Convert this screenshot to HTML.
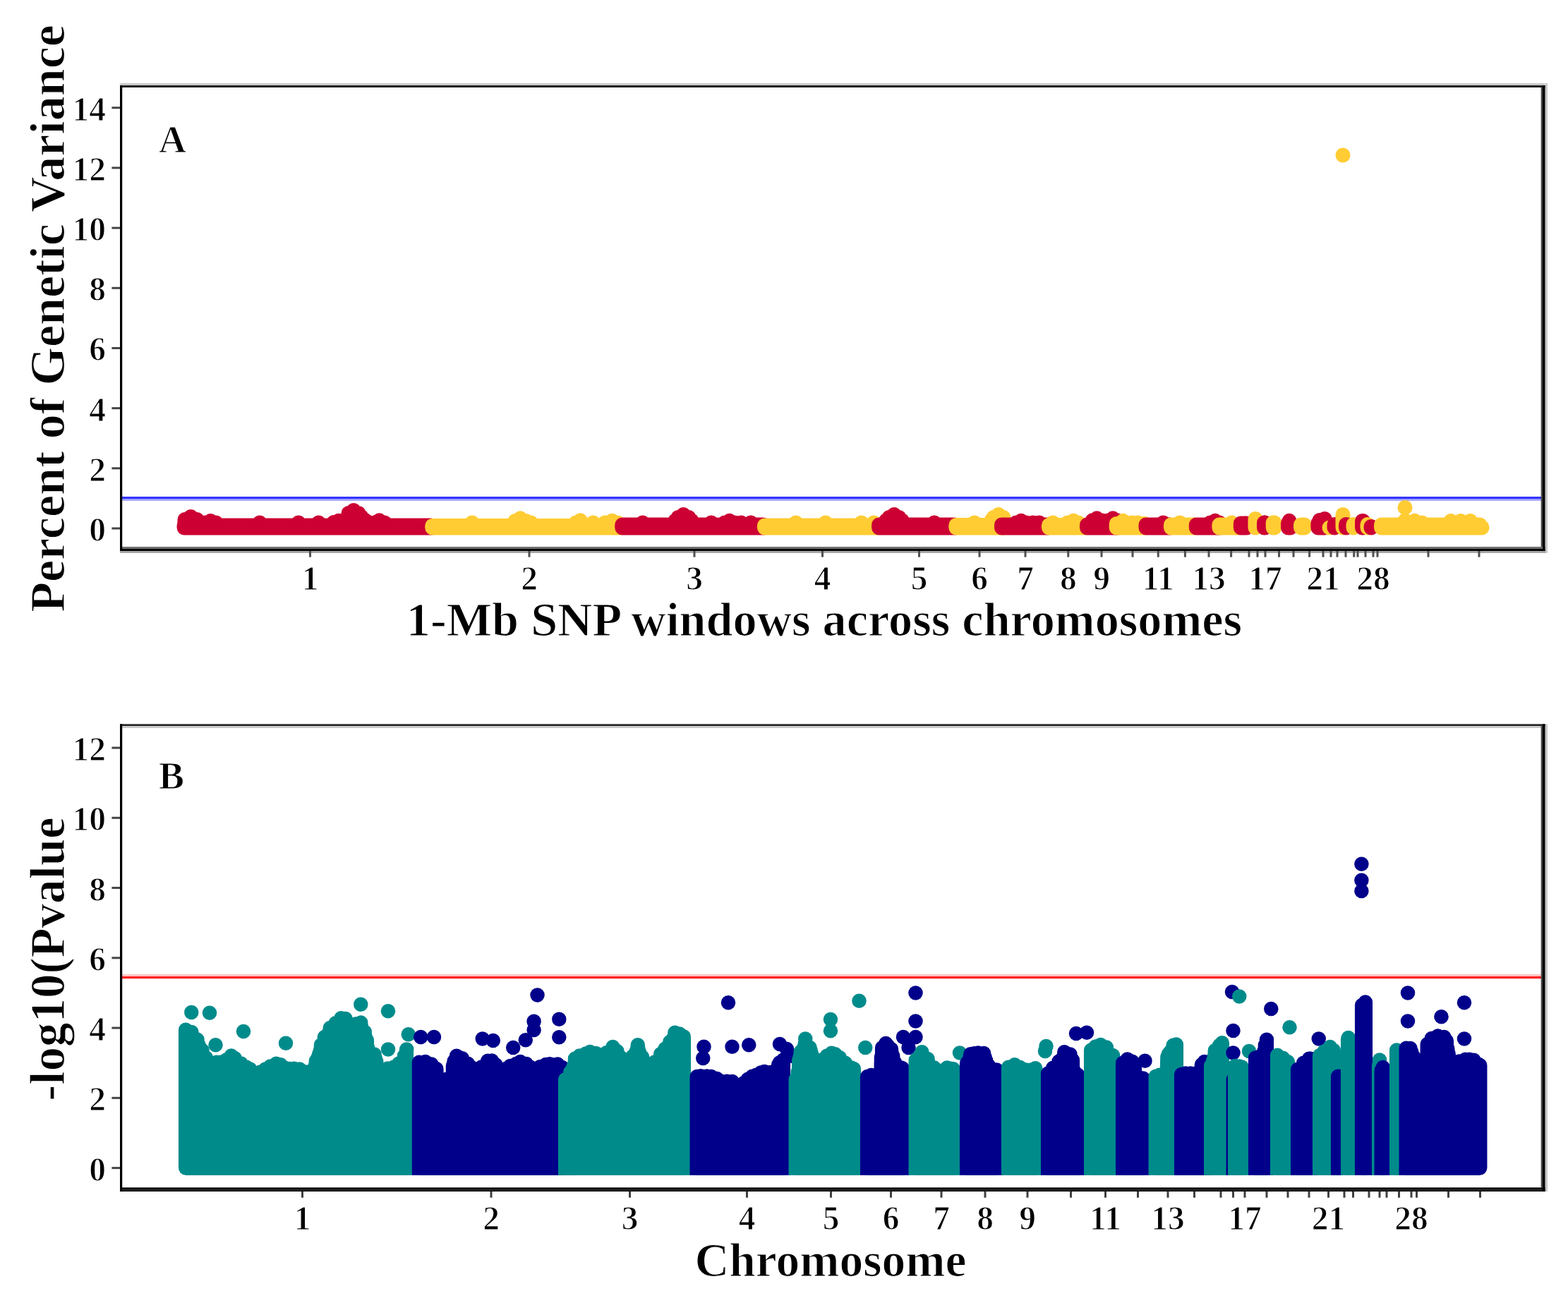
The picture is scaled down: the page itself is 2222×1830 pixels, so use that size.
<!DOCTYPE html>
<html><head><meta charset="utf-8"><title>Manhattan plots</title>
<style>html,body{margin:0;padding:0;background:#fff;overflow:hidden}svg{display:block}text{font-family:'Liberation Serif', 'Times New Roman', serif;font-weight:bold;fill:#000;stroke:#fff;stroke-width:1.2px}</style>
</head><body>
<svg width="2222" height="1830" viewBox="0 0 2222 1830"><rect width="2222" height="1830" fill="#fff"/><rect x="173" y="707" width="2012" height="3" fill="#AAAAFF"/><rect x="173" y="704" width="2012" height="3.2" fill="#3333FF"/><path d="M261.1 745.0V748.0M264.1 745.0V748.0M267.1 745.0V748.0M270.1 745.0V748.0M273.1 745.0V748.0M276.1 745.0V748.0M279.1 745.0V748.0M282.1 745.0V748.0M285.1 745.0V748.0M288.1 745.0V748.0M291.1 745.0V748.0M294.1 745.0V748.0M297.1 745.0V748.0M300.1 745.0V748.0M303.1 745.0V748.0M306.1 745.0V748.0M309.1 745.0V748.0M312.1 745.0V748.0M315.1 745.0V748.0M318.1 745.0V748.0M321.1 745.0V748.0M324.1 745.0V748.0M327.1 745.0V748.0M330.1 745.0V748.0M333.1 745.0V748.0M336.1 745.0V748.0M339.1 745.0V748.0M342.1 745.0V748.0M345.1 745.0V748.0M348.1 745.0V748.0M351.1 745.0V748.0M354.1 745.0V748.0M357.1 745.0V748.0M360.1 745.0V748.0M363.1 745.0V748.0M366.1 745.0V748.0M369.1 745.0V748.0M372.1 745.0V748.0M375.1 745.0V748.0M378.1 745.0V748.0M381.1 745.0V748.0M384.1 745.0V748.0M387.1 745.0V748.0M390.1 745.0V748.0M393.1 745.0V748.0M396.1 745.0V748.0M399.1 745.0V748.0M402.1 745.0V748.0M405.1 745.0V748.0M408.1 745.0V748.0M411.1 745.0V748.0M414.1 745.0V748.0M417.1 745.0V748.0M420.1 745.0V748.0M423.1 745.0V748.0M426.1 745.0V748.0M429.1 745.0V748.0M432.1 745.0V748.0M435.1 745.0V748.0M438.1 745.0V748.0M441.1 745.0V748.0M444.1 745.0V748.0M447.1 745.0V748.0M450.1 745.0V748.0M453.1 745.0V748.0M456.1 745.0V748.0M459.1 745.0V748.0M462.1 745.0V748.0M465.1 745.0V748.0M468.1 745.0V748.0M471.1 745.0V748.0M474.1 745.0V748.0M477.1 745.0V748.0M480.1 745.0V748.0M483.1 745.0V748.0M486.1 745.0V748.0M489.1 745.0V748.0M492.1 745.0V748.0M495.1 745.0V748.0M498.1 745.0V748.0M501.1 745.0V748.0M504.1 745.0V748.0M507.1 745.0V748.0M510.1 745.0V748.0M513.1 745.0V748.0M516.1 745.0V748.0M519.1 745.0V748.0M522.1 745.0V748.0M525.1 745.0V748.0M528.1 745.0V748.0M531.1 745.0V748.0M534.1 745.0V748.0M537.1 745.0V748.0M540.1 745.0V748.0M543.1 745.0V748.0M546.1 745.0V748.0M549.1 745.0V748.0M552.1 745.0V748.0M555.1 745.0V748.0M558.1 745.0V748.0M561.1 745.0V748.0M564.1 745.0V748.0M567.1 745.0V748.0M570.1 745.0V748.0M573.1 745.0V748.0M576.1 745.0V748.0M579.1 745.0V748.0M582.1 745.0V748.0M585.1 745.0V748.0M588.1 745.0V748.0M591.1 745.0V748.0M594.1 745.0V748.0M597.1 745.0V748.0M600.1 745.0V748.0M603.1 745.0V748.0M606.1 745.0V748.0M609.1 745.0V748.0M610.7 745.0V748.0M270.4 732.5V748.0M262.0 736.5V748.0M279.0 736.5V748.0M298.4 738.5V748.0M290.0 740.9V748.0M306.0 740.9V748.0M368.0 740.9V748.0M423.0 740.9V748.0M451.5 740.9V748.0M479.9 738.3V748.0M473.0 740.5V748.0M489.0 740.5V748.0M501.1 723.4V748.0M494.0 727.5V748.0M508.0 727.5V748.0M512.0 732.5V748.0M518.0 737.8V748.0M537.5 737.8V748.0M530.0 740.9V748.0M545.0 740.9V748.0" stroke="#CC0033" stroke-width="21.0" stroke-linecap="round" fill="none"/><path d="M612.7 745.5V748.0M615.7 745.5V748.0M618.7 745.5V748.0M621.7 745.5V748.0M624.7 745.5V748.0M627.7 745.5V748.0M630.7 745.5V748.0M633.7 745.5V748.0M636.7 745.5V748.0M639.7 745.5V748.0M642.7 745.5V748.0M645.7 745.5V748.0M648.7 745.5V748.0M651.7 745.5V748.0M654.7 745.5V748.0M657.7 745.5V748.0M660.7 745.5V748.0M663.7 745.5V748.0M666.7 745.5V748.0M669.7 745.5V748.0M672.7 745.5V748.0M675.7 745.5V748.0M678.7 745.5V748.0M681.7 745.5V748.0M684.7 745.5V748.0M687.7 745.5V748.0M690.7 745.5V748.0M693.7 745.5V748.0M696.7 745.5V748.0M699.7 745.5V748.0M702.7 745.5V748.0M705.7 745.5V748.0M708.7 745.5V748.0M711.7 745.5V748.0M714.7 745.5V748.0M717.7 745.5V748.0M720.7 745.5V748.0M723.7 745.5V748.0M726.7 745.5V748.0M729.7 745.5V748.0M732.7 745.5V748.0M735.7 745.5V748.0M738.7 745.5V748.0M741.7 745.5V748.0M744.7 745.5V748.0M747.7 745.5V748.0M750.7 745.5V748.0M753.7 745.5V748.0M756.7 745.5V748.0M759.7 745.5V748.0M762.7 745.5V748.0M765.7 745.5V748.0M768.7 745.5V748.0M771.7 745.5V748.0M774.7 745.5V748.0M777.7 745.5V748.0M780.7 745.5V748.0M783.7 745.5V748.0M786.7 745.5V748.0M789.7 745.5V748.0M792.7 745.5V748.0M795.7 745.5V748.0M798.7 745.5V748.0M801.7 745.5V748.0M804.7 745.5V748.0M807.7 745.5V748.0M810.7 745.5V748.0M813.7 745.5V748.0M816.7 745.5V748.0M819.7 745.5V748.0M822.7 745.5V748.0M825.7 745.5V748.0M828.7 745.5V748.0M831.7 745.5V748.0M834.7 745.5V748.0M837.7 745.5V748.0M840.7 745.5V748.0M843.7 745.5V748.0M846.7 745.5V748.0M849.7 745.5V748.0M852.7 745.5V748.0M855.7 745.5V748.0M858.7 745.5V748.0M861.7 745.5V748.0M864.7 745.5V748.0M867.7 745.5V748.0M870.7 745.5V748.0M873.7 745.5V748.0M876.7 745.5V748.0M879.7 745.5V748.0M879.8 745.5V748.0M669.0 740.9V748.0M737.3 734.8V748.0M730.0 738.5V748.0M745.0 738.5V748.0M752.5 740.9V748.0M822.4 737.8V748.0M816.0 740.9V748.0M840.5 740.9V748.0M857.3 740.9V748.0M867.5 738.3V748.0M860.0 740.9V748.0M875.0 740.9V748.0" stroke="#FFCC33" stroke-width="21.0" stroke-linecap="round" fill="none"/><path d="M881.8 744.0V748.0M884.8 744.0V748.0M887.8 744.0V748.0M890.8 744.0V748.0M893.8 744.0V748.0M896.8 744.0V748.0M899.8 744.0V748.0M902.8 744.0V748.0M905.8 744.0V748.0M908.8 744.0V748.0M911.8 744.0V748.0M914.8 744.0V748.0M917.8 744.0V748.0M920.8 744.0V748.0M923.8 744.0V748.0M926.8 744.0V748.0M929.8 744.0V748.0M932.8 744.0V748.0M935.8 744.0V748.0M938.8 744.0V748.0M941.8 744.0V748.0M944.8 744.0V748.0M947.8 744.0V748.0M950.8 744.0V748.0M953.8 744.0V748.0M956.8 744.0V748.0M959.8 744.0V748.0M962.8 744.0V748.0M965.8 744.0V748.0M968.8 744.0V748.0M971.8 744.0V748.0M974.8 744.0V748.0M977.8 744.0V748.0M980.8 744.0V748.0M983.8 744.0V748.0M986.8 744.0V748.0M989.8 744.0V748.0M992.8 744.0V748.0M995.8 744.0V748.0M998.8 744.0V748.0M1001.8 744.0V748.0M1004.8 744.0V748.0M1007.8 744.0V748.0M1010.8 744.0V748.0M1013.8 744.0V748.0M1016.8 744.0V748.0M1019.8 744.0V748.0M1022.8 744.0V748.0M1025.8 744.0V748.0M1028.8 744.0V748.0M1031.8 744.0V748.0M1034.8 744.0V748.0M1037.8 744.0V748.0M1040.8 744.0V748.0M1043.8 744.0V748.0M1046.8 744.0V748.0M1049.8 744.0V748.0M1052.8 744.0V748.0M1055.8 744.0V748.0M1058.8 744.0V748.0M1061.8 744.0V748.0M1064.8 744.0V748.0M1067.8 744.0V748.0M1070.8 744.0V748.0M1073.8 744.0V748.0M1076.8 744.0V748.0M1079.8 744.0V748.0M1081.5 744.0V748.0M910.7 740.9V748.0M968.4 729.5V748.0M961.0 733.5V748.0M976.0 733.5V748.0M957.0 737.8V748.0M980.0 737.8V748.0M1007.9 740.9V748.0M1033.7 738.3V748.0M1027.0 740.9V748.0M1041.0 740.9V748.0M1050.4 740.9V748.0M1064.0 740.9V748.0" stroke="#CC0033" stroke-width="21.0" stroke-linecap="round" fill="none"/><path d="M1083.5 745.0V748.0M1086.5 745.0V748.0M1089.5 745.0V748.0M1092.5 745.0V748.0M1095.5 745.0V748.0M1098.5 745.0V748.0M1101.5 745.0V748.0M1104.5 745.0V748.0M1107.5 745.0V748.0M1110.5 745.0V748.0M1113.5 745.0V748.0M1116.5 745.0V748.0M1119.5 745.0V748.0M1122.5 745.0V748.0M1125.5 745.0V748.0M1128.5 745.0V748.0M1131.5 745.0V748.0M1134.5 745.0V748.0M1137.5 745.0V748.0M1140.5 745.0V748.0M1143.5 745.0V748.0M1146.5 745.0V748.0M1149.5 745.0V748.0M1152.5 745.0V748.0M1155.5 745.0V748.0M1158.5 745.0V748.0M1161.5 745.0V748.0M1164.5 745.0V748.0M1167.5 745.0V748.0M1170.5 745.0V748.0M1173.5 745.0V748.0M1176.5 745.0V748.0M1179.5 745.0V748.0M1182.5 745.0V748.0M1185.5 745.0V748.0M1188.5 745.0V748.0M1191.5 745.0V748.0M1194.5 745.0V748.0M1197.5 745.0V748.0M1200.5 745.0V748.0M1203.5 745.0V748.0M1206.5 745.0V748.0M1209.5 745.0V748.0M1212.5 745.0V748.0M1215.5 745.0V748.0M1218.5 745.0V748.0M1221.5 745.0V748.0M1224.5 745.0V748.0M1227.5 745.0V748.0M1230.5 745.0V748.0M1233.5 745.0V748.0M1236.5 745.0V748.0M1239.5 745.0V748.0M1242.5 745.0V748.0M1243.6 745.0V748.0M1127.8 740.9V748.0M1169.9 740.9V748.0M1220.7 740.9V748.0M1238.2 740.9V748.0" stroke="#FFCC33" stroke-width="21.0" stroke-linecap="round" fill="none"/><path d="M1245.6 744.0V748.0M1248.6 744.0V748.0M1251.6 744.0V748.0M1254.6 744.0V748.0M1257.6 744.0V748.0M1260.6 744.0V748.0M1263.6 744.0V748.0M1266.6 744.0V748.0M1269.6 744.0V748.0M1272.6 744.0V748.0M1275.6 744.0V748.0M1278.6 744.0V748.0M1281.6 744.0V748.0M1284.6 744.0V748.0M1287.6 744.0V748.0M1290.6 744.0V748.0M1293.6 744.0V748.0M1296.6 744.0V748.0M1299.6 744.0V748.0M1302.6 744.0V748.0M1305.6 744.0V748.0M1308.6 744.0V748.0M1311.6 744.0V748.0M1314.6 744.0V748.0M1317.6 744.0V748.0M1320.6 744.0V748.0M1323.6 744.0V748.0M1326.6 744.0V748.0M1329.6 744.0V748.0M1332.6 744.0V748.0M1335.6 744.0V748.0M1338.6 744.0V748.0M1341.6 744.0V748.0M1344.6 744.0V748.0M1347.6 744.0V748.0M1350.6 744.0V748.0M1352.9 744.0V748.0M1267.0 729.5V748.0M1260.0 733.5V748.0M1274.0 733.5V748.0M1255.6 737.8V748.0M1278.4 737.8V748.0M1324.0 740.9V748.0" stroke="#CC0033" stroke-width="21.0" stroke-linecap="round" fill="none"/><path d="M1354.9 744.5V748.0M1357.9 744.5V748.0M1360.9 744.5V748.0M1363.9 744.5V748.0M1366.9 744.5V748.0M1369.9 744.5V748.0M1372.9 744.5V748.0M1375.9 744.5V748.0M1378.9 744.5V748.0M1381.9 744.5V748.0M1384.9 744.5V748.0M1387.9 744.5V748.0M1390.9 744.5V748.0M1393.9 744.5V748.0M1396.9 744.5V748.0M1399.9 744.5V748.0M1402.9 744.5V748.0M1405.9 744.5V748.0M1408.9 744.5V748.0M1411.9 744.5V748.0M1414.9 744.5V748.0M1417.5 744.5V748.0M1380.9 740.9V748.0M1415.0 729.5V748.0M1408.0 733.5V748.0M1422.0 733.5V748.0M1405.0 737.5V748.0" stroke="#FFCC33" stroke-width="21.0" stroke-linecap="round" fill="none"/><path d="M1419.5 744.0V748.0M1422.5 744.0V748.0M1425.5 744.0V748.0M1428.5 744.0V748.0M1431.5 744.0V748.0M1434.5 744.0V748.0M1437.5 744.0V748.0M1440.5 744.0V748.0M1443.5 744.0V748.0M1446.5 744.0V748.0M1449.5 744.0V748.0M1452.5 744.0V748.0M1455.5 744.0V748.0M1458.5 744.0V748.0M1461.5 744.0V748.0M1464.5 744.0V748.0M1467.5 744.0V748.0M1470.5 744.0V748.0M1473.5 744.0V748.0M1476.5 744.0V748.0M1479.5 744.0V748.0M1482.5 744.0V748.0M1484.5 744.0V748.0M1447.0 738.3V748.0M1440.0 740.9V748.0M1454.0 740.9V748.0M1463.6 740.9V748.0M1472.7 740.9V748.0" stroke="#CC0033" stroke-width="21.0" stroke-linecap="round" fill="none"/><path d="M1486.5 744.5V748.0M1489.5 744.5V748.0M1492.5 744.5V748.0M1495.5 744.5V748.0M1498.5 744.5V748.0M1501.5 744.5V748.0M1504.5 744.5V748.0M1507.5 744.5V748.0M1510.5 744.5V748.0M1513.5 744.5V748.0M1516.5 744.5V748.0M1519.5 744.5V748.0M1522.5 744.5V748.0M1525.5 744.5V748.0M1528.5 744.5V748.0M1531.5 744.5V748.0M1534.5 744.5V748.0M1537.5 744.5V748.0M1538.5 744.5V748.0M1492.0 740.9V748.0M1520.9 738.3V748.0M1513.0 740.9V748.0M1528.0 740.9V748.0" stroke="#FFCC33" stroke-width="21.0" stroke-linecap="round" fill="none"/><path d="M1540.5 744.0V748.0M1543.5 744.0V748.0M1546.5 744.0V748.0M1549.5 744.0V748.0M1552.5 744.0V748.0M1555.5 744.0V748.0M1558.5 744.0V748.0M1561.5 744.0V748.0M1564.5 744.0V748.0M1567.5 744.0V748.0M1570.5 744.0V748.0M1573.5 744.0V748.0M1576.5 744.0V748.0M1579.5 744.0V748.0M1580.2 744.0V748.0M1554.3 734.8V748.0M1548.0 737.8V748.0M1561.0 737.8V748.0M1577.0 734.8V748.0M1571.0 737.8V748.0M1583.0 737.8V748.0" stroke="#CC0033" stroke-width="21.0" stroke-linecap="round" fill="none"/><path d="M1582.2 742.5V748.0M1585.2 742.5V748.0M1588.2 742.5V748.0M1591.2 742.5V748.0M1594.2 742.5V748.0M1597.2 742.5V748.0M1600.2 742.5V748.0M1603.2 742.5V748.0M1606.2 742.5V748.0M1609.2 742.5V748.0M1612.2 742.5V748.0M1615.2 742.5V748.0M1618.2 742.5V748.0M1621.2 742.5V748.0M1622.0 742.5V748.0M1591.4 738.3V748.0M1604.0 740.9V748.0M1612.0 740.9V748.0" stroke="#FFCC33" stroke-width="21.0" stroke-linecap="round" fill="none"/><path d="M1624.0 744.0V748.0M1627.0 744.0V748.0M1630.0 744.0V748.0M1633.0 744.0V748.0M1636.0 744.0V748.0M1639.0 744.0V748.0M1642.0 744.0V748.0M1645.0 744.0V748.0M1648.0 744.0V748.0M1651.0 744.0V748.0M1654.0 744.0V748.0M1657.0 744.0V748.0M1657.5 744.0V748.0M1648.4 740.9V748.0" stroke="#CC0033" stroke-width="21.0" stroke-linecap="round" fill="none"/><path d="M1659.5 744.0V748.0M1662.5 744.0V748.0M1665.5 744.0V748.0M1668.5 744.0V748.0M1671.5 744.0V748.0M1674.5 744.0V748.0M1677.5 744.0V748.0M1680.5 744.0V748.0M1683.5 744.0V748.0M1686.5 744.0V748.0M1689.5 744.0V748.0M1692.5 744.0V748.0M1693.3 744.0V748.0M1671.9 740.9V748.0" stroke="#FFCC33" stroke-width="21.0" stroke-linecap="round" fill="none"/><path d="M1695.3 744.0V748.0M1698.3 744.0V748.0M1701.3 744.0V748.0M1704.3 744.0V748.0M1707.3 744.0V748.0M1710.3 744.0V748.0M1713.3 744.0V748.0M1716.3 744.0V748.0M1719.3 744.0V748.0M1722.3 744.0V748.0M1725.3 744.0V748.0M1725.9 744.0V748.0M1722.0 738.3V748.0M1715.0 740.9V748.0M1728.0 740.9V748.0" stroke="#CC0033" stroke-width="21.0" stroke-linecap="round" fill="none"/><path d="M1727.9 744.0V748.0M1730.9 744.0V748.0M1733.9 744.0V748.0M1736.9 744.0V748.0M1739.9 744.0V748.0M1742.9 744.0V748.0M1745.9 744.0V748.0M1748.9 744.0V748.0M1751.9 744.0V748.0M1754.9 744.0V748.0M1756.3 744.0V748.0M1745.5 740.9V748.0" stroke="#FFCC33" stroke-width="21.0" stroke-linecap="round" fill="none"/><path d="M1758.3 742.0V748.0M1761.3 742.0V748.0M1764.3 742.0V748.0M1766.5 742.0V748.0" stroke="#CC0033" stroke-width="21.0" stroke-linecap="round" fill="none"/><path d="M1779.0 735.5V748.0" stroke="#FFCC33" stroke-width="21.0" stroke-linecap="round" fill="none"/><path d="M1791.5 740.9V748.0M1792.5 740.9V748.0" stroke="#CC0033" stroke-width="21.0" stroke-linecap="round" fill="none"/><path d="M1804.2 740.9V748.0M1805.9 740.9V748.0" stroke="#FFCC33" stroke-width="21.0" stroke-linecap="round" fill="none"/><path d="M1825.5 741.5V748.0M1828.5 741.5V748.0M1827.0 738.3V748.0" stroke="#CC0033" stroke-width="21.0" stroke-linecap="round" fill="none"/><path d="M1843.5 744.0V748.0M1846.5 744.0V748.0M1848.5 744.0V748.0" stroke="#FFCC33" stroke-width="21.0" stroke-linecap="round" fill="none"/><path d="M1867.9 741.5V748.0M1870.9 741.5V748.0M1873.9 741.5V748.0M1875.5 741.5V748.0M1877.2 735.5V748.0M1870.0 737.5V748.0" stroke="#CC0033" stroke-width="21.0" stroke-linecap="round" fill="none"/><path d="M1884.0 748.0V748.0" stroke="#FFCC33" stroke-width="21.0" stroke-linecap="round" fill="none"/><path d="M1891.0 743.5V748.0" stroke="#CC0033" stroke-width="21.0" stroke-linecap="round" fill="none"/><path d="M1903.0 729.5V748.0" stroke="#FFCC33" stroke-width="21.0" stroke-linecap="round" fill="none"/><path d="M1907.5 743.5V748.0" stroke="#CC0033" stroke-width="21.0" stroke-linecap="round" fill="none"/><path d="M1918.0 743.5V748.0" stroke="#FFCC33" stroke-width="21.0" stroke-linecap="round" fill="none"/><path d="M1930.5 738.5V748.0M1931.5 738.5V748.0" stroke="#CC0033" stroke-width="21.0" stroke-linecap="round" fill="none"/><path d="M1938.0 743.5V748.0" stroke="#FFCC33" stroke-width="21.0" stroke-linecap="round" fill="none"/><path d="M1943.0 746.5V748.0" stroke="#CC0033" stroke-width="21.0" stroke-linecap="round" fill="none"/><path d="M1957.5 744.0V748.0M1960.5 744.0V748.0M1963.5 744.0V748.0M1966.5 744.0V748.0M1969.5 744.0V748.0M1972.5 744.0V748.0M1975.5 744.0V748.0M1978.5 744.0V748.0M1981.5 744.0V748.0M1984.5 744.0V748.0M1987.5 744.0V748.0M1990.5 744.0V748.0M1993.5 744.0V748.0M1996.5 744.0V748.0M1999.5 744.0V748.0M2002.5 744.0V748.0M2005.5 744.0V748.0M2008.5 744.0V748.0M2011.5 744.0V748.0M2014.5 744.0V748.0M2017.5 744.0V748.0M2020.5 744.0V748.0M2023.5 744.0V748.0M2026.5 744.0V748.0M2029.5 744.0V748.0M2032.5 744.0V748.0M2035.5 744.0V748.0M2038.5 744.0V748.0M2041.5 744.0V748.0M2044.5 744.0V748.0M2047.5 744.0V748.0M2050.5 744.0V748.0M2053.5 744.0V748.0M2056.5 744.0V748.0M2059.5 744.0V748.0M2062.5 744.0V748.0M2065.5 744.0V748.0M2068.5 744.0V748.0M2071.5 744.0V748.0M2074.5 744.0V748.0M2077.5 744.0V748.0M2080.5 744.0V748.0M2083.5 744.0V748.0M2086.5 744.0V748.0M2089.5 744.0V748.0M2092.5 744.0V748.0M2095.5 744.0V748.0M2097.0 744.0V748.0M2004.7 738.3V748.0M1995.0 740.9V748.0M2015.0 740.9V748.0M2056.0 738.5V748.0M2070.0 738.5V748.0M2083.6 738.5V748.0M1991.0 737.8V748.0M2100.0 747.5V748.0" stroke="#FFCC33" stroke-width="21.0" stroke-linecap="round" fill="none"/><circle cx="1903" cy="220" r="10.5" fill="#FFCC33"/><circle cx="1991" cy="719.5" r="10.5" fill="#FFCC33"/><rect x="170.00" y="118.00" width="2019.60" height="3.00" fill="#C8C8C8"/><rect x="170.00" y="121.00" width="2019.60" height="3.00" fill="#202020"/><rect x="170.00" y="775.00" width="2019.60" height="3.00" fill="#707070"/><rect x="170.00" y="778.00" width="2019.60" height="3.00" fill="#000"/><rect x="170.00" y="781.00" width="2023.00" height="3.00" fill="#A8A8A8"/><rect x="170.00" y="121.00" width="3.20" height="660.00" fill="#000"/><rect x="2183.70" y="124.00" width="2.30" height="651.00" fill="#444"/><rect x="2186.00" y="121.00" width="3.60" height="660.00" fill="#000"/><rect x="2190.00" y="118.00" width="3.00" height="666.00" fill="#C8C8C8"/><rect x="158.4" y="747.50" width="11.8" height="3" fill="#444"/><text x="150" y="767.00" text-anchor="end" font-size="47.5">0</text><rect x="158.4" y="662.32" width="11.8" height="3" fill="#444"/><text x="150" y="681.82" text-anchor="end" font-size="47.5">2</text><rect x="158.4" y="577.14" width="11.8" height="3" fill="#444"/><text x="150" y="596.64" text-anchor="end" font-size="47.5">4</text><rect x="158.4" y="491.96" width="11.8" height="3" fill="#444"/><text x="150" y="511.46" text-anchor="end" font-size="47.5">6</text><rect x="158.4" y="406.78" width="11.8" height="3" fill="#444"/><text x="150" y="426.28" text-anchor="end" font-size="47.5">8</text><rect x="158.4" y="321.60" width="11.8" height="3" fill="#444"/><text x="150" y="341.10" text-anchor="end" font-size="47.5">10</text><rect x="158.4" y="236.42" width="11.8" height="3" fill="#444"/><text x="150" y="255.92" text-anchor="end" font-size="47.5">12</text><rect x="158.4" y="151.24" width="11.8" height="3" fill="#444"/><text x="150" y="170.74" text-anchor="end" font-size="47.5">14</text><rect x="438.00" y="781" width="3" height="8.7" fill="#505050"/><text x="439.50" y="836" text-anchor="middle" font-size="47.5">1</text><rect x="748.50" y="781" width="3" height="8.7" fill="#505050"/><text x="750.00" y="836" text-anchor="middle" font-size="47.5">2</text><rect x="982.50" y="781" width="3" height="8.7" fill="#505050"/><text x="984.00" y="836" text-anchor="middle" font-size="47.5">3</text><rect x="1164.00" y="781" width="3" height="8.7" fill="#505050"/><text x="1165.50" y="836" text-anchor="middle" font-size="47.5">4</text><rect x="1301.00" y="781" width="3" height="8.7" fill="#505050"/><text x="1302.50" y="836" text-anchor="middle" font-size="47.5">5</text><rect x="1386.50" y="781" width="3" height="8.7" fill="#505050"/><text x="1388.00" y="836" text-anchor="middle" font-size="47.5">6</text><rect x="1451.50" y="781" width="3" height="8.7" fill="#505050"/><text x="1453.00" y="836" text-anchor="middle" font-size="47.5">7</text><rect x="1512.25" y="781" width="3" height="8.7" fill="#505050"/><text x="1513.75" y="836" text-anchor="middle" font-size="47.5">8</text><rect x="1559.50" y="781" width="3" height="8.7" fill="#505050"/><text x="1561.00" y="836" text-anchor="middle" font-size="47.5">9</text><rect x="1603.50" y="781" width="3" height="8.7" fill="#505050"/><rect x="1639.75" y="781" width="3" height="8.7" fill="#505050"/><text x="1641.25" y="836" text-anchor="middle" font-size="47.5">11</text><rect x="1677.90" y="781" width="3" height="8.7" fill="#505050"/><rect x="1711.50" y="781" width="3" height="8.7" fill="#505050"/><text x="1713.00" y="836" text-anchor="middle" font-size="47.5">13</text><rect x="1743.10" y="781" width="3" height="8.7" fill="#505050"/><rect x="1768.50" y="781" width="3" height="8.7" fill="#505050"/><rect x="1780.50" y="781" width="3" height="8.7" fill="#505050"/><rect x="1791.50" y="781" width="3" height="8.7" fill="#505050"/><text x="1793.00" y="836" text-anchor="middle" font-size="47.5">17</text><rect x="1811.00" y="781" width="3" height="8.7" fill="#505050"/><rect x="1831.50" y="781" width="3" height="8.7" fill="#505050"/><rect x="1854.10" y="781" width="3" height="8.7" fill="#505050"/><rect x="1873.50" y="781" width="3" height="8.7" fill="#505050"/><text x="1875.00" y="836" text-anchor="middle" font-size="47.5">21</text><rect x="1884.50" y="781" width="3" height="8.7" fill="#505050"/><rect x="1893.50" y="781" width="3" height="8.7" fill="#505050"/><rect x="1905.50" y="781" width="3" height="8.7" fill="#505050"/><rect x="1917.25" y="781" width="3" height="8.7" fill="#505050"/><rect x="1922.50" y="781" width="3" height="8.7" fill="#505050"/><rect x="1933.50" y="781" width="3" height="8.7" fill="#505050"/><rect x="1944.50" y="781" width="3" height="8.7" fill="#505050"/><text x="1946.00" y="836" text-anchor="middle" font-size="47.5">28</text><rect x="1950.50" y="781" width="3" height="8.7" fill="#505050"/><rect x="2022.50" y="781" width="3" height="8.7" fill="#505050"/><rect x="2094.50" y="781" width="3" height="8.7" fill="#505050"/><text x="225" y="215.6" font-size="54">A</text><text x="0" y="0" transform="translate(90.8 451.5) rotate(-90)" text-anchor="middle" font-size="70">Percent of Genetic Variance</text><text x="1168" y="901.4" text-anchor="middle" font-size="68.25">1-Mb SNP windows across chromosomes</text><rect x="173" y="1381" width="2012" height="3" fill="#FFC4C4"/><rect x="173" y="1384" width="2012" height="3.2" fill="#FF2222"/><rect x="263.2" y="1655.6" width="322.8" height="10.25" fill="#008B8B"/><path d="M263.2 1464.6V1655.6M264.8 1463.9V1655.6M266.2 1463.3V1655.6M267.8 1463.0V1655.6M269.2 1464.8V1655.6M270.8 1466.7V1655.6M272.2 1468.5V1655.6M273.8 1470.2V1655.6M275.2 1472.0V1655.6M276.8 1473.8V1655.6M278.2 1475.7V1655.6M279.8 1477.5V1655.6M281.2 1480.7V1655.6M282.8 1484.2V1655.6M284.2 1487.7V1655.6M285.8 1491.2V1655.6M287.2 1494.7V1655.6M288.8 1497.8V1655.6M290.2 1500.8V1655.6M291.8 1503.8V1655.6M293.2 1506.8V1655.6M294.8 1509.8V1655.6M296.2 1510.2V1655.6M297.8 1510.2V1655.6M299.2 1510.2V1655.6M300.8 1510.2V1655.6M302.2 1510.2V1655.6M303.8 1510.2V1655.6M305.2 1510.2V1655.6M306.8 1510.2V1655.6M308.2 1510.2V1655.6M309.8 1510.2V1655.6M311.2 1510.2V1655.6M312.8 1510.2V1655.6M314.2 1510.2V1655.6M315.8 1510.2V1655.6M317.2 1510.2V1655.6M318.8 1509.0V1655.6M320.2 1507.5V1655.6M321.8 1506.0V1655.6M323.2 1504.5V1655.6M324.8 1503.0V1655.6M326.2 1501.5V1655.6M327.8 1500.0V1655.6M329.2 1499.6V1655.6M330.8 1501.6V1655.6M332.2 1503.5V1655.6M333.8 1505.4V1655.6M335.2 1507.4V1655.6M336.8 1509.3V1655.6M338.2 1510.6V1655.6M339.8 1511.4V1655.6M341.2 1512.1V1655.6M342.8 1512.9V1655.6M344.2 1513.6V1655.6M345.8 1514.4V1655.6M347.2 1515.1V1655.6M348.8 1516.1V1655.6M350.2 1517.0V1655.6M351.8 1518.0V1655.6M353.2 1518.9V1655.6M354.8 1519.9V1655.6M356.2 1520.9V1655.6M357.8 1521.8V1655.6M359.2 1522.8V1655.6M360.8 1523.8V1655.6M362.2 1524.7V1655.6M363.8 1525.7V1655.6M365.2 1526.4V1655.6M366.8 1525.5V1655.6M368.2 1524.6V1655.6M369.8 1523.7V1655.6M371.2 1522.9V1655.6M372.8 1522.0V1655.6M374.2 1521.1V1655.6M375.8 1520.2V1655.6M377.2 1519.4V1655.6M378.8 1518.5V1655.6M380.2 1517.6V1655.6M381.8 1516.8V1655.6M383.2 1516.0V1655.6M384.8 1515.2V1655.6M386.2 1514.3V1655.6M387.8 1513.5V1655.6M389.2 1512.7V1655.6M390.8 1511.9V1655.6M392.2 1511.1V1655.6M393.8 1510.2V1655.6M395.2 1511.4V1655.6M396.8 1512.6V1655.6M398.2 1513.8V1655.6M399.8 1514.9V1655.6M401.2 1516.1V1655.6M402.8 1517.2V1655.6M404.2 1518.4V1655.6M405.8 1519.0V1655.6M407.2 1519.0V1655.6M408.8 1519.0V1655.6M410.2 1519.0V1655.6M411.8 1519.0V1655.6M413.2 1519.0V1655.6M414.8 1519.0V1655.6M416.2 1519.0V1655.6M417.8 1519.0V1655.6M419.2 1519.0V1655.6M420.8 1519.0V1655.6M422.2 1519.0V1655.6M423.8 1519.6V1655.6M425.2 1520.4V1655.6M426.8 1521.1V1655.6M428.2 1521.9V1655.6M429.8 1522.6V1655.6M431.2 1523.4V1655.6M432.8 1524.1V1655.6M434.2 1524.9V1655.6M435.8 1525.6V1655.6M437.2 1526.4V1655.6M438.8 1527.1V1655.6M440.2 1527.1V1655.6M441.8 1523.4V1655.6M443.2 1519.6V1655.6M444.8 1515.9V1655.6M446.2 1512.1V1655.6M447.8 1508.2V1655.6M449.2 1503.5V1655.6M450.8 1498.7V1655.6M452.2 1494.0V1655.6M453.8 1489.2V1655.6M455.2 1484.7V1655.6M456.8 1481.5V1655.6M458.2 1478.3V1655.6M459.8 1475.1V1655.6M461.2 1471.9V1655.6M462.8 1469.1V1655.6M464.2 1466.7V1655.6M465.8 1464.4V1655.6M467.2 1462.0V1655.6M468.8 1459.7V1655.6M470.2 1457.6V1655.6M471.8 1456.5V1655.6M473.2 1455.4V1655.6M474.8 1454.4V1655.6M476.2 1453.3V1655.6M477.8 1452.2V1655.6M479.2 1451.1V1655.6M480.8 1450.1V1655.6M482.2 1449.0V1655.6M483.8 1447.9V1655.6M485.2 1446.9V1655.6M486.8 1445.8V1655.6M488.2 1446.2V1655.6M489.8 1448.2V1655.6M491.2 1450.2V1655.6M492.8 1452.2V1655.6M494.2 1454.2V1655.6M495.8 1456.2V1655.6M497.2 1458.2V1655.6M498.8 1460.2V1655.6M500.2 1458.9V1655.6M501.8 1457.6V1655.6M503.2 1456.2V1655.6M504.8 1454.9V1655.6M506.2 1453.6V1655.6M507.8 1452.2V1655.6M509.2 1450.9V1655.6M510.8 1452.1V1655.6M512.2 1455.9V1655.6M513.8 1459.6V1655.6M515.2 1463.4V1655.6M516.8 1467.1V1655.6M518.2 1470.9V1655.6M519.8 1474.6V1655.6M521.2 1485.2V1655.6M522.8 1495.4V1655.6M524.2 1496.1V1655.6M525.8 1496.9V1655.6M527.2 1497.6V1655.6M528.8 1498.4V1655.6M530.2 1499.1V1655.6M531.8 1499.9V1655.6M533.2 1504.4V1655.6M534.8 1512.6V1655.6M536.2 1520.9V1655.6M537.8 1527.5V1655.6M539.2 1526.0V1655.6M540.8 1524.5V1655.6M542.2 1523.0V1655.6M543.8 1521.5V1655.6M545.2 1520.2V1655.6M546.8 1519.8V1655.6M548.2 1519.3V1655.6M549.8 1518.9V1655.6M551.2 1518.5V1655.6M552.8 1518.0V1655.6M554.2 1517.6V1655.6M555.8 1517.2V1655.6M557.2 1516.8V1655.6M558.8 1516.3V1655.6M560.2 1515.9V1655.6M561.8 1515.5V1655.6M563.2 1514.2V1655.6M564.8 1512.2V1655.6M566.2 1510.2V1655.6M567.8 1508.2V1655.6M569.2 1506.2V1655.6M570.8 1504.0V1655.6M572.2 1501.5V1655.6M573.8 1499.0V1655.6M575.2 1496.5V1655.6M575.8 1495.7V1655.6M263.2 1459.7V1655.6M271.4 1463.1V1655.6M279.4 1473.5V1655.6M286.5 1488.7V1655.6M291.7 1499.1V1655.6M298.7 1506.3V1655.6M307.0 1505.8V1655.6M312.2 1505.7V1655.6M320.9 1502.2V1655.6M327.7 1496.4V1655.6M332.7 1500.0V1655.6M341.6 1507.6V1655.6M348.8 1512.4V1655.6M354.3 1515.4V1655.6M362.3 1520.8V1655.6M369.2 1519.4V1655.6M376.1 1515.6V1655.6M383.0 1511.6V1655.6M391.5 1507.7V1655.6M397.7 1509.2V1655.6M403.7 1513.7V1655.6M410.1 1515.0V1655.6M416.6 1514.7V1655.6M424.5 1515.6V1655.6M433.2 1519.6V1655.6M441.2 1520.3V1655.6M447.9 1503.7V1655.6M455.0 1480.9V1655.6M459.9 1469.9V1655.6M467.8 1457.0V1655.6M475.6 1450.2V1655.6M483.4 1443.3V1655.6M489.6 1443.9V1655.6M495.5 1452.3V1655.6M504.3 1451.6V1655.6M511.2 1449.6V1655.6M516.7 1462.4V1655.6M523.5 1491.9V1655.6M530.5 1494.4V1655.6M536.8 1519.4V1655.6M543.0 1517.5V1655.6M549.6 1514.6V1655.6M557.8 1512.8V1655.6M564.9 1507.8V1655.6M573.0 1496.5V1655.6M575.8 1490.7V1655.6" stroke="#008B8B" stroke-width="20.5" stroke-linecap="round" fill="none"/><circle cx="271.25" cy="1435" r="10.25" fill="#008B8B"/><circle cx="297" cy="1435.75" r="10.25" fill="#008B8B"/><circle cx="345" cy="1462" r="10.25" fill="#008B8B"/><circle cx="305.5" cy="1481.25" r="10.25" fill="#008B8B"/><circle cx="405" cy="1478.75" r="10.25" fill="#008B8B"/><circle cx="511.25" cy="1423.75" r="10.25" fill="#008B8B"/><circle cx="550" cy="1433.25" r="10.25" fill="#008B8B"/><circle cx="550" cy="1487.5" r="10.25" fill="#008B8B"/><circle cx="578.75" cy="1466.25" r="10.25" fill="#008B8B"/><circle cx="576.25" cy="1487.5" r="10.25" fill="#008B8B"/><rect x="583.8" y="1655.6" width="228.2" height="10.25" fill="#00008B"/><path d="M594.0 1509.6V1655.6M595.5 1509.5V1655.6M597.0 1509.3V1655.6M598.5 1509.2V1655.6M600.0 1509.0V1655.6M601.5 1509.5V1655.6M603.0 1510.1V1655.6M604.5 1510.6V1655.6M606.0 1511.1V1655.6M607.5 1511.7V1655.6M609.0 1512.2V1655.6M610.5 1512.8V1655.6M612.0 1513.3V1655.6M613.5 1513.8V1655.6M615.0 1514.4V1655.6M616.5 1514.9V1655.6M618.0 1517.5V1655.6M619.5 1524.2V1655.6M621.0 1531.0V1655.6M622.5 1537.8V1655.6M624.0 1537.2V1655.6M625.5 1536.8V1655.6M627.0 1536.2V1655.6M628.5 1535.8V1655.6M630.0 1535.2V1655.6M631.5 1534.9V1655.6M633.0 1534.5V1655.6M634.5 1534.1V1655.6M636.0 1533.8V1655.6M637.5 1533.4V1655.6M639.0 1533.0V1655.6M640.5 1527.2V1655.6M642.0 1510.8V1655.6M643.5 1504.2V1655.6M645.0 1502.8V1655.6M646.5 1501.2V1655.6M648.0 1499.8V1655.6M649.5 1498.2V1655.6M651.0 1499.0V1655.6M652.5 1500.9V1655.6M654.0 1502.8V1655.6M655.5 1504.6V1655.6M657.0 1506.5V1655.6M658.5 1508.4V1655.6M660.0 1510.2V1655.6M661.5 1511.5V1655.6M663.0 1512.8V1655.6M664.5 1514.0V1655.6M666.0 1515.2V1655.6M667.5 1516.5V1655.6M669.0 1517.8V1655.6M670.5 1519.0V1655.6M672.0 1520.2V1655.6M673.5 1521.5V1655.6M675.0 1522.8V1655.6M676.5 1521.4V1655.6M678.0 1520.1V1655.6M679.5 1518.8V1655.6M681.0 1517.5V1655.6M682.5 1516.2V1655.6M684.0 1514.9V1655.6M685.5 1513.6V1655.6M687.0 1512.2V1655.6M688.5 1510.9V1655.6M690.0 1509.6V1655.6M691.5 1508.3V1655.6M693.0 1507.0V1655.6M694.5 1505.7V1655.6M696.0 1506.4V1655.6M697.5 1508.2V1655.6M699.0 1509.9V1655.6M700.5 1511.7V1655.6M702.0 1513.4V1655.6M703.5 1515.2V1655.6M705.0 1516.9V1655.6M706.5 1518.7V1655.6M708.0 1520.4V1655.6M709.5 1522.2V1655.6M711.0 1522.2V1655.6M712.5 1521.3V1655.6M714.0 1520.5V1655.6M715.5 1519.6V1655.6M717.0 1518.8V1655.6M718.5 1517.9V1655.6M720.0 1517.0V1655.6M721.5 1516.2V1655.6M723.0 1515.3V1655.6M724.5 1514.5V1655.6M726.0 1513.6V1655.6M727.5 1512.8V1655.6M729.0 1512.3V1655.6M730.5 1511.8V1655.6M732.0 1511.4V1655.6M733.5 1511.0V1655.6M735.0 1510.5V1655.6M736.5 1510.0V1655.6M738.0 1509.6V1655.6M739.5 1509.2V1655.6M741.0 1508.7V1655.6M742.5 1508.2V1655.6M744.0 1509.7V1655.6M745.5 1511.1V1655.6M747.0 1512.6V1655.6M748.5 1514.0V1655.6M750.0 1515.5V1655.6M751.5 1516.9V1655.6M753.0 1518.3V1655.6M754.5 1519.8V1655.6M756.0 1519.8V1655.6M757.5 1519.2V1655.6M759.0 1518.7V1655.6M760.5 1518.0V1655.6M762.0 1517.5V1655.6M763.5 1516.8V1655.6M765.0 1516.2V1655.6M766.5 1515.7V1655.6M768.0 1515.0V1655.6M769.5 1514.5V1655.6M771.0 1513.8V1655.6M772.5 1513.2V1655.6M774.0 1513.2V1655.6M775.5 1513.2V1655.6M777.0 1513.2V1655.6M778.5 1513.2V1655.6M780.0 1513.2V1655.6M781.5 1513.2V1655.6M783.0 1513.2V1655.6M784.5 1513.2V1655.6M786.0 1513.2V1655.6M787.5 1513.2V1655.6M789.0 1513.2V1655.6M790.5 1513.6V1655.6M792.0 1514.7V1655.6M793.5 1515.7V1655.6M795.0 1516.8V1655.6M796.5 1517.8V1655.6M798.0 1518.8V1655.6M799.5 1519.9V1655.6M801.0 1521.2V1655.6M801.8 1522.0V1655.6M594.0 1505.8V1655.6M602.8 1505.1V1655.6M611.4 1508.5V1655.6M618.3 1515.1V1655.6M626.2 1531.7V1655.6M633.9 1529.4V1655.6M640.3 1525.7V1655.6M647.0 1496.7V1655.6M655.0 1500.2V1655.6M663.0 1507.8V1655.6M669.7 1514.0V1655.6M674.8 1518.4V1655.6M682.3 1512.6V1655.6M691.2 1503.8V1655.6M697.0 1503.6V1655.6M702.5 1509.3V1655.6M709.8 1517.8V1655.6M718.0 1514.5V1655.6M723.0 1511.1V1655.6M731.3 1508.1V1655.6M737.3 1505.1V1655.6M745.9 1507.9V1655.6M751.6 1512.7V1655.6M759.6 1514.7V1655.6M765.2 1512.2V1655.6M773.5 1509.1V1655.6M779.0 1508.3V1655.6M785.1 1509.5V1655.6M790.2 1508.4V1655.6M796.6 1513.0V1655.6M801.8 1517.0V1655.6" stroke="#00008B" stroke-width="20.5" stroke-linecap="round" fill="none"/><circle cx="596.25" cy="1470" r="10.25" fill="#00008B"/><circle cx="615" cy="1470" r="10.25" fill="#00008B"/><circle cx="683.75" cy="1472.5" r="10.25" fill="#00008B"/><circle cx="698.75" cy="1475" r="10.25" fill="#00008B"/><circle cx="727.2" cy="1485" r="10.25" fill="#00008B"/><circle cx="744.8" cy="1474.2" r="10.25" fill="#00008B"/><circle cx="761.5" cy="1410.6" r="10.25" fill="#00008B"/><circle cx="756.6" cy="1447.8" r="10.25" fill="#00008B"/><circle cx="756.6" cy="1460" r="10.25" fill="#00008B"/><circle cx="792.3" cy="1444.8" r="10.25" fill="#00008B"/><circle cx="792.3" cy="1470.3" r="10.25" fill="#00008B"/><rect x="791.0" y="1655.6" width="188.0" height="10.25" fill="#008B8B"/><path d="M801.2 1535.2V1655.6M802.8 1534.2V1655.6M804.2 1533.2V1655.6M805.8 1530.7V1655.6M807.2 1526.6V1655.6M808.8 1522.4V1655.6M810.2 1518.3V1655.6M811.8 1514.2V1655.6M813.2 1510.1V1655.6M814.8 1505.9V1655.6M816.2 1504.3V1655.6M817.8 1503.2V1655.6M819.2 1502.1V1655.6M820.8 1500.9V1655.6M822.2 1499.8V1655.6M823.8 1498.7V1655.6M825.2 1497.7V1655.6M826.8 1497.5V1655.6M828.2 1497.2V1655.6M829.8 1497.0V1655.6M831.2 1496.7V1655.6M832.8 1496.5V1655.6M834.2 1496.2V1655.6M835.8 1496.0V1655.6M837.2 1495.7V1655.6M838.8 1495.5V1655.6M840.2 1495.3V1655.6M841.8 1495.8V1655.6M843.2 1496.3V1655.6M844.8 1496.8V1655.6M846.2 1497.3V1655.6M847.8 1497.8V1655.6M849.2 1498.3V1655.6M850.8 1498.8V1655.6M852.2 1499.3V1655.6M853.8 1499.8V1655.6M855.2 1500.0V1655.6M856.8 1498.8V1655.6M858.2 1497.5V1655.6M859.8 1496.3V1655.6M861.2 1495.0V1655.6M862.8 1493.8V1655.6M864.2 1492.5V1655.6M865.8 1491.3V1655.6M867.2 1490.0V1655.6M868.8 1488.8V1655.6M870.2 1488.1V1655.6M871.8 1490.4V1655.6M873.2 1492.6V1655.6M874.8 1494.9V1655.6M876.2 1497.1V1655.6M877.8 1499.4V1655.6M879.2 1501.6V1655.6M880.8 1503.9V1655.6M882.2 1506.1V1655.6M883.8 1508.4V1655.6M885.2 1510.6V1655.6M886.8 1512.9V1655.6M888.2 1515.1V1655.6M889.8 1517.4V1655.6M891.2 1514.8V1655.6M892.8 1511.2V1655.6M894.2 1507.7V1655.6M895.8 1504.2V1655.6M897.2 1500.6V1655.6M898.8 1497.1V1655.6M900.2 1493.5V1655.6M901.8 1490.0V1655.6M903.2 1486.4V1655.6M904.8 1487.9V1655.6M906.2 1491.9V1655.6M907.8 1495.9V1655.6M909.2 1499.9V1655.6M910.8 1503.9V1655.6M912.2 1507.9V1655.6M913.8 1511.9V1655.6M915.2 1515.2V1655.6M916.8 1514.8V1655.6M918.2 1514.4V1655.6M919.8 1514.1V1655.6M921.2 1513.7V1655.6M922.8 1513.3V1655.6M924.2 1512.9V1655.6M925.8 1511.8V1655.6M927.2 1509.9V1655.6M928.8 1508.1V1655.6M930.2 1506.2V1655.6M931.8 1504.3V1655.6M933.2 1502.4V1655.6M934.8 1500.6V1655.6M936.2 1498.8V1655.6M937.8 1497.0V1655.6M939.2 1495.2V1655.6M940.8 1493.3V1655.6M942.2 1491.5V1655.6M943.8 1489.8V1655.6M945.2 1488.0V1655.6M946.8 1486.2V1655.6M948.2 1483.8V1655.6M949.8 1480.8V1655.6M951.2 1477.8V1655.6M952.8 1474.8V1655.6M954.2 1471.8V1655.6M955.8 1468.8V1655.6M957.2 1465.8V1655.6M958.8 1466.2V1655.6M960.2 1467.5V1655.6M961.8 1468.7V1655.6M963.2 1469.8V1655.6M964.8 1471.0V1655.6M966.2 1472.2V1655.6M967.8 1473.5V1655.6M968.8 1474.2V1655.6M801.2 1530.3V1655.6M808.4 1519.6V1655.6M815.0 1500.4V1655.6M821.3 1496.4V1655.6M830.2 1493.4V1655.6M836.1 1490.9V1655.6M844.5 1493.1V1655.6M851.3 1495.2V1655.6M859.9 1492.1V1655.6M868.4 1484.1V1655.6M874.5 1489.9V1655.6M879.9 1498.9V1655.6M884.9 1506.1V1655.6M890.1 1513.1V1655.6M896.8 1497.1V1655.6M903.8 1481.3V1655.6M910.1 1498.2V1655.6M915.6 1510.4V1655.6M922.0 1509.1V1655.6M927.8 1505.6V1655.6M936.2 1494.0V1655.6M942.6 1486.4V1655.6M949.4 1476.8V1655.6M956.4 1463.8V1655.6M962.9 1465.6V1655.6M968.8 1469.2V1655.6" stroke="#008B8B" stroke-width="20.5" stroke-linecap="round" fill="none"/><rect x="977.5" y="1655.6" width="142.5" height="10.25" fill="#00008B"/><path d="M987.8 1529.8V1655.6M989.2 1529.3V1655.6M990.8 1529.0V1655.6M992.2 1529.1V1655.6M993.8 1529.2V1655.6M995.2 1529.3V1655.6M996.8 1529.4V1655.6M998.2 1529.5V1655.6M999.8 1529.6V1655.6M1001.2 1529.7V1655.6M1002.8 1529.8V1655.6M1004.2 1529.9V1655.6M1005.8 1530.0V1655.6M1007.2 1530.1V1655.6M1008.8 1530.2V1655.6M1010.2 1530.4V1655.6M1011.8 1531.1V1655.6M1013.2 1531.9V1655.6M1014.8 1532.6V1655.6M1016.2 1533.4V1655.6M1017.8 1534.1V1655.6M1019.2 1534.9V1655.6M1020.8 1535.6V1655.6M1022.2 1536.4V1655.6M1023.8 1537.1V1655.6M1025.2 1537.7V1655.6M1026.8 1537.5V1655.6M1028.2 1537.3V1655.6M1029.8 1537.2V1655.6M1031.2 1537.0V1655.6M1032.8 1536.8V1655.6M1034.2 1536.6V1655.6M1035.8 1537.0V1655.6M1037.2 1537.8V1655.6M1038.8 1538.8V1655.6M1040.2 1539.7V1655.6M1041.8 1540.5V1655.6M1043.2 1541.5V1655.6M1044.8 1542.3V1655.6M1046.2 1543.2V1655.6M1047.8 1543.8V1655.6M1049.2 1542.6V1655.6M1050.8 1541.4V1655.6M1052.2 1540.3V1655.6M1053.8 1539.1V1655.6M1055.2 1537.9V1655.6M1056.8 1536.7V1655.6M1058.2 1535.6V1655.6M1059.8 1534.4V1655.6M1061.2 1533.2V1655.6M1062.8 1532.0V1655.6M1064.2 1530.8V1655.6M1065.8 1529.9V1655.6M1067.2 1529.3V1655.6M1068.8 1528.6V1655.6M1070.2 1528.0V1655.6M1071.8 1527.4V1655.6M1073.2 1526.7V1655.6M1074.8 1526.1V1655.6M1076.2 1525.4V1655.6M1077.8 1524.8V1655.6M1079.2 1524.1V1655.6M1080.8 1523.5V1655.6M1082.2 1522.9V1655.6M1083.8 1522.9V1655.6M1085.2 1523.1V1655.6M1086.8 1523.4V1655.6M1088.2 1523.6V1655.6M1089.8 1523.8V1655.6M1091.2 1524.0V1655.6M1092.8 1524.2V1655.6M1094.2 1524.4V1655.6M1095.8 1524.6V1655.6M1097.2 1524.9V1655.6M1098.8 1525.1V1655.6M1100.2 1524.2V1655.6M1101.8 1518.2V1655.6M1103.2 1512.2V1655.6M1104.8 1506.2V1655.6M1106.2 1505.9V1655.6M1107.8 1506.6V1655.6M1109.2 1507.4V1655.6M1109.8 1507.6V1655.6M987.8 1526.0V1655.6M992.9 1525.3V1655.6M1001.8 1525.6V1655.6M1007.9 1526.1V1655.6M1015.8 1529.1V1655.6M1021.3 1532.4V1655.6M1030.2 1532.7V1655.6M1037.6 1533.1V1655.6M1046.7 1539.7V1655.6M1054.2 1534.9V1655.6M1059.9 1529.7V1655.6M1065.9 1525.8V1655.6M1071.1 1524.0V1655.6M1078.0 1520.4V1655.6M1083.3 1518.9V1655.6M1091.7 1520.0V1655.6M1097.6 1521.1V1655.6M1103.1 1509.2V1655.6M1109.8 1502.6V1655.6" stroke="#00008B" stroke-width="20.5" stroke-linecap="round" fill="none"/><circle cx="1032" cy="1421.25" r="10.25" fill="#00008B"/><circle cx="1037.5" cy="1483.75" r="10.25" fill="#00008B"/><circle cx="1061.25" cy="1481.25" r="10.25" fill="#00008B"/><circle cx="997.5" cy="1483.75" r="10.25" fill="#00008B"/><circle cx="996.25" cy="1500" r="10.25" fill="#00008B"/><circle cx="1105" cy="1480" r="10.25" fill="#00008B"/><circle cx="1115" cy="1487" r="10.25" fill="#00008B"/><circle cx="1125" cy="1497.5" r="10.25" fill="#00008B"/><rect x="1117.5" y="1655.6" width="102.5" height="10.25" fill="#008B8B"/><path d="M1127.8 1534.5V1655.6M1129.2 1530.0V1655.6M1130.8 1519.5V1655.6M1132.2 1503.0V1655.6M1133.8 1497.3V1655.6M1135.2 1493.8V1655.6M1136.8 1490.3V1655.6M1138.2 1486.8V1655.6M1139.8 1483.3V1655.6M1141.2 1483.7V1655.6M1142.8 1484.8V1655.6M1144.2 1485.9V1655.6M1145.8 1487.1V1655.6M1147.2 1488.2V1655.6M1148.8 1489.3V1655.6M1150.2 1494.3V1655.6M1151.8 1518.7V1655.6M1153.2 1521.1V1655.6M1154.8 1519.0V1655.6M1156.2 1517.0V1655.6M1157.8 1515.0V1655.6M1159.2 1513.0V1655.6M1160.8 1511.0V1655.6M1162.2 1509.0V1655.6M1163.8 1506.9V1655.6M1165.2 1505.1V1655.6M1166.8 1504.1V1655.6M1168.2 1503.1V1655.6M1169.8 1502.1V1655.6M1171.2 1501.1V1655.6M1172.8 1500.1V1655.6M1174.2 1499.1V1655.6M1175.8 1498.1V1655.6M1177.2 1497.1V1655.6M1178.8 1496.1V1655.6M1180.2 1495.5V1655.6M1181.8 1496.8V1655.6M1183.2 1498.1V1655.6M1184.8 1499.4V1655.6M1186.2 1500.7V1655.6M1187.8 1502.0V1655.6M1189.2 1503.3V1655.6M1190.8 1504.7V1655.6M1192.2 1506.0V1655.6M1193.8 1507.3V1655.6M1195.2 1508.6V1655.6M1196.8 1509.9V1655.6M1198.2 1511.2V1655.6M1199.8 1512.5V1655.6M1201.2 1513.7V1655.6M1202.8 1514.8V1655.6M1204.2 1515.9V1655.6M1205.8 1517.1V1655.6M1207.2 1518.2V1655.6M1208.8 1519.3V1655.6M1209.8 1520.1V1655.6M1127.8 1529.9V1655.6M1134.8 1490.8V1655.6M1140.8 1479.6V1655.6M1147.5 1484.7V1655.6M1155.9 1512.7V1655.6M1163.5 1502.8V1655.6M1171.6 1496.7V1655.6M1178.4 1492.7V1655.6M1183.5 1494.2V1655.6M1189.8 1498.9V1655.6M1197.9 1506.7V1655.6M1206.5 1513.5V1655.6M1209.8 1515.1V1655.6" stroke="#008B8B" stroke-width="20.5" stroke-linecap="round" fill="none"/><circle cx="1217.5" cy="1418.75" r="10.25" fill="#008B8B"/><circle cx="1177" cy="1445" r="10.25" fill="#008B8B"/><circle cx="1177" cy="1461.25" r="10.25" fill="#008B8B"/><circle cx="1141.25" cy="1472.5" r="10.25" fill="#008B8B"/><circle cx="1226.25" cy="1485" r="10.25" fill="#008B8B"/><rect x="1219.0" y="1655.6" width="70.0" height="10.25" fill="#00008B"/><path d="M1229.2 1529.4V1655.6M1230.8 1529.3V1655.6M1232.2 1529.1V1655.6M1233.8 1529.0V1655.6M1235.2 1528.9V1655.6M1236.8 1528.7V1655.6M1238.2 1528.6V1655.6M1239.8 1528.5V1655.6M1241.2 1528.3V1655.6M1242.8 1528.2V1655.6M1244.2 1528.0V1655.6M1245.8 1527.9V1655.6M1247.2 1527.8V1655.6M1248.8 1506.5V1655.6M1250.2 1485.1V1655.6M1251.8 1484.4V1655.6M1253.2 1483.6V1655.6M1254.8 1482.9V1655.6M1256.2 1482.1V1655.6M1257.8 1482.0V1655.6M1259.2 1484.7V1655.6M1260.8 1487.5V1655.6M1262.2 1490.2V1655.6M1263.8 1493.0V1655.6M1265.2 1496.8V1655.6M1266.8 1505.8V1655.6M1268.2 1510.8V1655.6M1269.8 1512.0V1655.6M1271.2 1513.2V1655.6M1272.8 1514.5V1655.6M1274.2 1515.7V1655.6M1275.8 1516.8V1655.6M1277.2 1518.0V1655.6M1278.8 1519.2V1655.6M1229.2 1525.9V1655.6M1234.6 1524.0V1655.6M1242.6 1523.8V1655.6M1249.0 1498.0V1655.6M1255.3 1478.9V1655.6M1262.9 1486.9V1655.6M1268.1 1506.1V1655.6M1277.0 1513.5V1655.6M1278.8 1514.2V1655.6" stroke="#00008B" stroke-width="20.5" stroke-linecap="round" fill="none"/><circle cx="1280" cy="1470" r="10.25" fill="#00008B"/><circle cx="1297.5" cy="1407.5" r="10.25" fill="#00008B"/><circle cx="1297.5" cy="1447.5" r="10.25" fill="#00008B"/><circle cx="1297.5" cy="1470" r="10.25" fill="#00008B"/><circle cx="1287.5" cy="1485" r="10.25" fill="#00008B"/><rect x="1287.5" y="1655.6" width="73.5" height="10.25" fill="#008B8B"/><path d="M1297.8 1507.0V1655.6M1299.2 1502.5V1655.6M1300.8 1499.8V1655.6M1302.2 1498.8V1655.6M1303.8 1497.8V1655.6M1305.2 1496.8V1655.6M1306.8 1495.8V1655.6M1308.2 1496.4V1655.6M1309.8 1498.6V1655.6M1311.2 1500.9V1655.6M1312.8 1503.1V1655.6M1314.2 1505.4V1655.6M1315.8 1507.6V1655.6M1317.2 1509.9V1655.6M1318.8 1511.8V1655.6M1320.2 1513.5V1655.6M1321.8 1515.3V1655.6M1323.2 1517.2V1655.6M1324.8 1519.0V1655.6M1326.2 1520.8V1655.6M1327.8 1522.5V1655.6M1329.2 1524.3V1655.6M1330.8 1524.7V1655.6M1332.2 1523.6V1655.6M1333.8 1522.4V1655.6M1335.2 1521.3V1655.6M1336.8 1520.2V1655.6M1338.2 1519.1V1655.6M1339.8 1517.9V1655.6M1341.2 1518.1V1655.6M1342.8 1518.4V1655.6M1344.2 1518.8V1655.6M1345.8 1519.2V1655.6M1347.2 1519.6V1655.6M1348.8 1519.9V1655.6M1350.2 1520.2V1655.6M1350.8 1520.2V1655.6M1297.8 1502.4V1655.6M1306.4 1491.2V1655.6M1314.6 1501.1V1655.6M1323.5 1513.3V1655.6M1328.6 1520.0V1655.6M1335.0 1517.6V1655.6M1342.1 1513.4V1655.6M1347.5 1514.8V1655.6M1350.8 1515.2V1655.6" stroke="#008B8B" stroke-width="20.5" stroke-linecap="round" fill="none"/><circle cx="1360" cy="1492.5" r="10.25" fill="#008B8B"/><rect x="1360.0" y="1655.6" width="62.5" height="10.25" fill="#00008B"/><path d="M1370.2 1512.0V1655.6M1371.8 1507.5V1655.6M1373.2 1503.0V1655.6M1374.8 1498.5V1655.6M1376.2 1497.7V1655.6M1377.8 1497.6V1655.6M1379.2 1497.5V1655.6M1380.8 1497.4V1655.6M1382.2 1497.3V1655.6M1383.8 1497.2V1655.6M1385.2 1497.1V1655.6M1386.8 1497.0V1655.6M1388.2 1496.9V1655.6M1389.8 1496.8V1655.6M1391.2 1496.7V1655.6M1392.8 1496.6V1655.6M1394.2 1496.5V1655.6M1395.8 1498.9V1655.6M1397.2 1503.6V1655.6M1398.8 1508.4V1655.6M1400.2 1513.1V1655.6M1401.8 1517.9V1655.6M1403.2 1520.4V1655.6M1404.8 1520.6V1655.6M1406.2 1520.8V1655.6M1407.8 1521.0V1655.6M1409.2 1521.2V1655.6M1410.8 1521.4V1655.6M1412.2 1521.6V1655.6M1370.2 1507.1V1655.6M1375.3 1494.2V1655.6M1380.6 1493.2V1655.6M1386.0 1492.4V1655.6M1394.1 1493.0V1655.6M1401.0 1510.5V1655.6M1410.1 1516.4V1655.6M1412.2 1516.6V1655.6" stroke="#00008B" stroke-width="20.5" stroke-linecap="round" fill="none"/><rect x="1419.0" y="1655.6" width="58.5" height="10.25" fill="#008B8B"/><path d="M1429.2 1516.9V1655.6M1430.8 1516.1V1655.6M1432.2 1515.4V1655.6M1433.8 1514.6V1655.6M1435.2 1513.9V1655.6M1436.8 1513.1V1655.6M1438.2 1513.2V1655.6M1439.8 1514.1V1655.6M1441.2 1515.0V1655.6M1442.8 1515.9V1655.6M1444.2 1516.8V1655.6M1445.8 1517.7V1655.6M1447.2 1518.6V1655.6M1448.8 1519.5V1655.6M1450.2 1520.2V1655.6M1451.8 1520.2V1655.6M1453.2 1520.2V1655.6M1454.8 1520.2V1655.6M1456.2 1520.2V1655.6M1457.8 1520.2V1655.6M1459.2 1520.2V1655.6M1460.8 1520.2V1655.6M1462.2 1520.2V1655.6M1463.8 1520.2V1655.6M1465.2 1520.2V1655.6M1466.8 1519.5V1655.6M1467.2 1519.3V1655.6M1429.2 1512.7V1655.6M1437.9 1509.2V1655.6M1445.4 1513.1V1655.6M1453.8 1516.6V1655.6M1462.3 1516.3V1655.6M1467.2 1514.3V1655.6" stroke="#008B8B" stroke-width="20.5" stroke-linecap="round" fill="none"/><circle cx="1482.5" cy="1483" r="10.25" fill="#008B8B"/><circle cx="1481" cy="1490" r="10.25" fill="#008B8B"/><rect x="1475.0" y="1655.6" width="62.5" height="10.25" fill="#00008B"/><path d="M1485.2 1526.2V1655.6M1486.8 1524.3V1655.6M1488.2 1522.4V1655.6M1489.8 1520.6V1655.6M1491.2 1519.0V1655.6M1492.8 1517.5V1655.6M1494.2 1516.0V1655.6M1495.8 1514.5V1655.6M1497.2 1513.0V1655.6M1498.8 1511.5V1655.6M1500.2 1509.8V1655.6M1501.8 1507.2V1655.6M1503.2 1504.6V1655.6M1504.8 1501.9V1655.6M1506.2 1499.3V1655.6M1507.8 1496.7V1655.6M1509.2 1494.1V1655.6M1510.8 1493.5V1655.6M1512.2 1495.0V1655.6M1513.8 1496.5V1655.6M1515.2 1498.0V1655.6M1516.8 1499.5V1655.6M1518.2 1501.0V1655.6M1519.8 1502.5V1655.6M1521.2 1516.8V1655.6M1522.8 1525.7V1655.6M1524.2 1526.7V1655.6M1525.8 1527.6V1655.6M1527.2 1528.5V1655.6M1485.2 1521.6V1655.6M1492.2 1513.8V1655.6M1500.6 1504.6V1655.6M1508.3 1491.3V1655.6M1516.4 1494.5V1655.6M1523.3 1521.2V1655.6M1527.2 1523.5V1655.6" stroke="#00008B" stroke-width="20.5" stroke-linecap="round" fill="none"/><circle cx="1525" cy="1465" r="10.25" fill="#00008B"/><circle cx="1540" cy="1463.75" r="10.25" fill="#00008B"/><rect x="1536.0" y="1655.6" width="51.5" height="10.25" fill="#008B8B"/><path d="M1546.2 1492.1V1655.6M1547.8 1487.7V1655.6M1549.2 1487.5V1655.6M1550.8 1487.3V1655.6M1552.2 1487.1V1655.6M1553.8 1486.9V1655.6M1555.2 1486.6V1655.6M1556.8 1486.4V1655.6M1558.2 1486.2V1655.6M1559.8 1486.0V1655.6M1561.2 1485.8V1655.6M1562.8 1485.6V1655.6M1564.2 1485.4V1655.6M1565.8 1486.4V1655.6M1567.2 1488.6V1655.6M1568.8 1490.9V1655.6M1570.2 1493.1V1655.6M1571.8 1495.4V1655.6M1573.2 1497.6V1655.6M1574.8 1499.9V1655.6M1576.2 1500.8V1655.6M1577.2 1501.2V1655.6M1546.2 1488.5V1655.6M1552.5 1483.4V1655.6M1559.6 1481.1V1655.6M1567.8 1484.5V1655.6M1576.2 1495.7V1655.6M1577.2 1496.2V1655.6" stroke="#008B8B" stroke-width="20.5" stroke-linecap="round" fill="none"/><rect x="1581.0" y="1655.6" width="49.0" height="10.25" fill="#00008B"/><path d="M1591.2 1511.5V1655.6M1592.8 1510.0V1655.6M1594.2 1508.5V1655.6M1595.8 1507.0V1655.6M1597.2 1505.5V1655.6M1598.8 1504.0V1655.6M1600.2 1503.1V1655.6M1601.8 1505.1V1655.6M1603.2 1507.1V1655.6M1604.8 1509.1V1655.6M1606.2 1511.1V1655.6M1607.8 1514.5V1655.6M1609.2 1525.0V1655.6M1610.8 1530.5V1655.6M1612.2 1531.0V1655.6M1613.8 1531.5V1655.6M1615.2 1532.0V1655.6M1616.8 1532.5V1655.6M1618.2 1533.0V1655.6M1619.8 1533.5V1655.6M1591.2 1506.7V1655.6M1597.6 1501.6V1655.6M1604.5 1504.8V1655.6M1612.5 1526.3V1655.6M1619.8 1528.5V1655.6" stroke="#00008B" stroke-width="20.5" stroke-linecap="round" fill="none"/><circle cx="1622.5" cy="1503.75" r="10.25" fill="#00008B"/><rect x="1627.5" y="1655.6" width="49.5" height="10.25" fill="#008B8B"/><path d="M1637.8 1529.5V1655.6M1639.2 1529.0V1655.6M1640.8 1528.6V1655.6M1642.2 1528.2V1655.6M1643.8 1527.8V1655.6M1645.2 1527.3V1655.6M1646.8 1526.9V1655.6M1648.2 1526.5V1655.6M1649.8 1526.0V1655.6M1651.2 1525.6V1655.6M1652.8 1522.2V1655.6M1654.2 1504.2V1655.6M1655.8 1494.3V1655.6M1657.2 1492.4V1655.6M1658.8 1490.6V1655.6M1660.2 1488.7V1655.6M1661.8 1486.8V1655.6M1663.2 1484.9V1655.6M1664.8 1483.1V1655.6M1666.2 1484.6V1655.6M1666.8 1485.4V1655.6M1637.8 1525.8V1655.6M1643.3 1523.7V1655.6M1649.4 1522.2V1655.6M1654.4 1498.1V1655.6M1662.6 1481.8V1655.6M1666.8 1480.4V1655.6" stroke="#008B8B" stroke-width="20.5" stroke-linecap="round" fill="none"/><rect x="1664.0" y="1655.6" width="53.0" height="10.25" fill="#00008B"/><path d="M1674.2 1526.7V1655.6M1675.8 1526.3V1655.6M1677.2 1525.9V1655.6M1678.8 1525.6V1655.6M1680.2 1525.3V1655.6M1681.8 1525.5V1655.6M1683.2 1525.7V1655.6M1684.8 1525.9V1655.6M1686.2 1526.1V1655.6M1687.8 1526.4V1655.6M1689.2 1526.6V1655.6M1690.8 1526.8V1655.6M1692.2 1527.0V1655.6M1693.8 1527.2V1655.6M1695.2 1527.4V1655.6M1696.8 1527.6V1655.6M1698.2 1525.5V1655.6M1699.8 1521.0V1655.6M1701.2 1516.5V1655.6M1702.8 1512.6V1655.6M1704.2 1511.6V1655.6M1705.8 1510.6V1655.6M1706.8 1509.9V1655.6M1674.2 1522.9V1655.6M1680.1 1521.5V1655.6M1687.1 1521.5V1655.6M1695.1 1523.6V1655.6M1703.0 1508.9V1655.6M1706.8 1504.9V1655.6" stroke="#00008B" stroke-width="20.5" stroke-linecap="round" fill="none"/><rect x="1706.0" y="1655.6" width="36.0" height="10.25" fill="#008B8B"/><path d="M1716.2 1515.2V1655.6M1717.8 1509.2V1655.6M1719.2 1503.2V1655.6M1720.8 1497.2V1655.6M1722.2 1491.2V1655.6M1723.8 1489.3V1655.6M1725.2 1488.2V1655.6M1726.8 1487.1V1655.6M1728.2 1485.9V1655.6M1729.8 1484.8V1655.6M1731.2 1483.7V1655.6M1731.8 1483.3V1655.6M1716.2 1510.6V1655.6M1721.8 1489.0V1655.6M1728.3 1481.4V1655.6M1731.8 1478.3V1655.6" stroke="#008B8B" stroke-width="20.5" stroke-linecap="round" fill="none"/><rect x="1737.5" y="1655.6" width="5.0" height="10.25" fill="#00008B"/><path d="M1747.8 1535.2V1655.6M1747.8 1530.7V1655.6M1747.8 1530.2V1655.6" stroke="#00008B" stroke-width="20.5" stroke-linecap="round" fill="none"/><circle cx="1746" cy="1406" r="10.25" fill="#00008B"/><circle cx="1747.5" cy="1461" r="10.25" fill="#00008B"/><circle cx="1747.5" cy="1492.5" r="10.25" fill="#00008B"/><rect x="1740.0" y="1655.6" width="30.0" height="10.25" fill="#008B8B"/><path d="M1750.2 1515.2V1655.6M1751.8 1515.2V1655.6M1753.2 1515.2V1655.6M1754.8 1515.2V1655.6M1756.2 1515.9V1655.6M1757.8 1516.6V1655.6M1759.2 1517.4V1655.6M1759.8 1517.6V1655.6M1750.2 1511.0V1655.6M1756.3 1511.6V1655.6M1759.8 1512.6V1655.6" stroke="#008B8B" stroke-width="20.5" stroke-linecap="round" fill="none"/><circle cx="1756.25" cy="1412.5" r="10.25" fill="#008B8B"/><circle cx="1770" cy="1490" r="10.25" fill="#008B8B"/><rect x="1769.0" y="1655.6" width="36.0" height="10.25" fill="#00008B"/><path d="M1779.2 1504.4V1655.6M1780.8 1503.6V1655.6M1782.2 1502.9V1655.6M1783.8 1502.1V1655.6M1785.2 1501.4V1655.6M1786.8 1500.6V1655.6M1788.2 1498.2V1655.6M1789.8 1494.2V1655.6M1791.2 1490.2V1655.6M1792.8 1486.2V1655.6M1794.2 1482.2V1655.6M1794.8 1480.9V1655.6M1779.2 1499.6V1655.6M1786.8 1496.6V1655.6M1792.9 1481.5V1655.6M1794.8 1475.9V1655.6" stroke="#00008B" stroke-width="20.5" stroke-linecap="round" fill="none"/><circle cx="1801.25" cy="1430" r="10.25" fill="#00008B"/><circle cx="1795" cy="1473.75" r="10.25" fill="#00008B"/><rect x="1800.0" y="1655.6" width="35.0" height="10.25" fill="#008B8B"/><path d="M1810.2 1500.2V1655.6M1811.8 1500.2V1655.6M1813.2 1500.2V1655.6M1814.8 1500.2V1655.6M1816.2 1501.5V1655.6M1817.8 1503.0V1655.6M1819.2 1504.5V1655.6M1820.8 1506.0V1655.6M1822.2 1507.5V1655.6M1823.8 1509.0V1655.6M1824.8 1510.0V1655.6M1810.2 1495.8V1655.6M1818.1 1499.7V1655.6M1824.6 1506.3V1655.6M1824.8 1505.0V1655.6" stroke="#008B8B" stroke-width="20.5" stroke-linecap="round" fill="none"/><circle cx="1827.5" cy="1456.25" r="10.25" fill="#008B8B"/><rect x="1829.0" y="1655.6" width="38.5" height="10.25" fill="#00008B"/><path d="M1839.2 1519.9V1655.6M1840.8 1518.1V1655.6M1842.2 1516.2V1655.6M1843.8 1514.3V1655.6M1845.2 1512.6V1655.6M1846.8 1511.4V1655.6M1848.2 1510.3V1655.6M1849.8 1509.2V1655.6M1851.2 1508.1V1655.6M1852.8 1506.9V1655.6M1854.2 1505.8V1655.6M1855.8 1505.4V1655.6M1857.2 1505.7V1655.6M1839.2 1515.7V1655.6M1847.2 1506.8V1655.6M1855.0 1500.7V1655.6M1857.2 1500.7V1655.6" stroke="#00008B" stroke-width="20.5" stroke-linecap="round" fill="none"/><circle cx="1868.75" cy="1472.5" r="10.25" fill="#00008B"/><rect x="1860.0" y="1655.6" width="40.0" height="10.25" fill="#008B8B"/><path d="M1870.2 1500.0V1655.6M1871.8 1498.8V1655.6M1873.2 1497.5V1655.6M1874.8 1496.3V1655.6M1876.2 1495.0V1655.6M1877.8 1493.8V1655.6M1879.2 1492.5V1655.6M1880.8 1491.3V1655.6M1882.2 1490.0V1655.6M1883.8 1488.8V1655.6M1885.2 1488.1V1655.6M1886.8 1489.9V1655.6M1888.2 1491.8V1655.6M1889.8 1493.7V1655.6M1870.2 1495.9V1655.6M1876.2 1490.8V1655.6M1884.8 1484.1V1655.6M1889.8 1488.7V1655.6" stroke="#008B8B" stroke-width="20.5" stroke-linecap="round" fill="none"/><rect x="1886.0" y="1655.6" width="16.5" height="10.25" fill="#00008B"/><path d="M1896.2 1530.7V1655.6M1896.2 1526.2V1655.6M1896.2 1525.7V1655.6" stroke="#00008B" stroke-width="20.5" stroke-linecap="round" fill="none"/><rect x="1900.0" y="1655.6" width="21.0" height="10.25" fill="#008B8B"/><path d="M1910.2 1476.3V1655.6M1910.8 1475.9V1655.6M1910.2 1472.8V1655.6M1910.8 1470.9V1655.6" stroke="#008B8B" stroke-width="20.5" stroke-linecap="round" fill="none"/><rect x="1920.0" y="1655.6" width="25.0" height="10.25" fill="#00008B"/><path d="M1930.2 1428.4V1655.6M1931.8 1427.4V1655.6M1933.2 1426.4V1655.6M1934.8 1425.4V1655.6M1930.2 1424.8V1655.6M1934.8 1420.4V1655.6" stroke="#00008B" stroke-width="20.5" stroke-linecap="round" fill="none"/><circle cx="1929.4" cy="1224.8" r="10.25" fill="#00008B"/><circle cx="1929.4" cy="1247.7" r="10.25" fill="#00008B"/><circle cx="1929.4" cy="1263" r="10.25" fill="#00008B"/><rect x="1944.0" y="1655.6" width="6.0" height="10.25" fill="#008B8B"/><path d="M1954.2 1515.2V1655.6M1954.2 1510.6V1655.6M1954.2 1510.2V1655.6" stroke="#008B8B" stroke-width="20.5" stroke-linecap="round" fill="none"/><circle cx="1955" cy="1502.5" r="10.25" fill="#008B8B"/><rect x="1947.5" y="1655.6" width="22.5" height="10.25" fill="#00008B"/><path d="M1957.8 1521.1V1655.6M1959.2 1518.9V1655.6M1959.8 1518.1V1655.6M1957.8 1517.0V1655.6M1959.8 1513.1V1655.6" stroke="#00008B" stroke-width="20.5" stroke-linecap="round" fill="none"/><rect x="1969.0" y="1655.6" width="16.0" height="10.25" fill="#008B8B"/><path d="M1979.2 1493.5V1655.6M1979.2 1489.9V1655.6M1979.2 1488.5V1655.6" stroke="#008B8B" stroke-width="20.5" stroke-linecap="round" fill="none"/><rect x="1982.5" y="1655.6" width="114.8" height="10.25" fill="#00008B"/><path d="M1992.8 1490.2V1655.6M1994.2 1490.2V1655.6M1995.8 1490.2V1655.6M1997.2 1490.2V1655.6M1998.8 1490.2V1655.6M2000.2 1491.0V1655.6M2001.8 1495.5V1655.6M2003.2 1500.0V1655.6M2004.8 1504.5V1655.6M2006.2 1513.6V1655.6M2007.8 1523.6V1655.6M2009.2 1536.2V1655.6M2010.8 1535.2V1655.6M2012.2 1520.2V1655.6M2013.8 1517.3V1655.6M2015.2 1516.8V1655.6M2016.8 1516.3V1655.6M2018.2 1515.8V1655.6M2019.8 1515.3V1655.6M2021.2 1497.8V1655.6M2022.8 1480.1V1655.6M2024.2 1478.9V1655.6M2025.8 1477.8V1655.6M2027.2 1476.7V1655.6M2028.8 1475.6V1655.6M2030.2 1474.4V1655.6M2031.8 1473.3V1655.6M2033.2 1472.9V1655.6M2034.8 1473.1V1655.6M2036.2 1473.3V1655.6M2037.8 1473.5V1655.6M2039.2 1473.7V1655.6M2040.8 1473.9V1655.6M2042.2 1474.1V1655.6M2043.8 1474.4V1655.6M2045.2 1474.6V1655.6M2046.8 1474.8V1655.6M2048.2 1475.0V1655.6M2049.8 1475.2V1655.6M2051.2 1485.9V1655.6M2052.8 1498.6V1655.6M2054.2 1511.4V1655.6M2055.8 1517.2V1655.6M2057.2 1516.1V1655.6M2058.8 1514.9V1655.6M2060.2 1513.8V1655.6M2061.8 1512.7V1655.6M2063.2 1511.6V1655.6M2064.8 1510.4V1655.6M2066.2 1509.6V1655.6M2067.8 1508.9V1655.6M2069.2 1508.1V1655.6M2070.8 1507.4V1655.6M2072.2 1506.6V1655.6M2073.8 1505.9V1655.6M2075.2 1505.3V1655.6M2076.8 1505.5V1655.6M2078.2 1505.8V1655.6M2079.8 1506.0V1655.6M2081.2 1506.3V1655.6M2082.8 1506.5V1655.6M2084.2 1506.8V1655.6M2085.8 1507.0V1655.6M2087.2 1507.3V1655.6M2088.8 1507.5V1655.6M2090.2 1508.0V1655.6M2091.8 1509.5V1655.6M2093.2 1511.0V1655.6M2094.8 1512.5V1655.6M2096.2 1514.0V1655.6M2097.2 1515.0V1655.6M1992.8 1485.7V1655.6M1998.5 1486.0V1655.6M2005.7 1505.9V1655.6M2011.1 1528.2V1655.6M2019.8 1511.7V1655.6M2028.7 1472.0V1655.6M2037.6 1468.6V1655.6M2046.4 1470.1V1655.6M2052.6 1493.2V1655.6M2061.5 1508.8V1655.6M2067.9 1504.4V1655.6M2076.6 1501.8V1655.6M2082.1 1501.8V1655.6M2088.5 1502.8V1655.6M2095.8 1508.9V1655.6M2097.2 1510.0V1655.6" stroke="#00008B" stroke-width="20.5" stroke-linecap="round" fill="none"/><circle cx="1995" cy="1407.5" r="10.25" fill="#00008B"/><circle cx="1995" cy="1447.5" r="10.25" fill="#00008B"/><circle cx="2042.5" cy="1441.25" r="10.25" fill="#00008B"/><circle cx="2075" cy="1421.25" r="10.25" fill="#00008B"/><circle cx="2075" cy="1472.5" r="10.25" fill="#00008B"/><rect x="170.00" y="1026.40" width="2019.60" height="2.80" fill="#202020"/><rect x="173.20" y="1029.20" width="2010.50" height="2.80" fill="#C8C8C8"/><rect x="170.00" y="1683.30" width="2019.60" height="2.90" fill="#000"/><rect x="170.00" y="1686.20" width="2019.60" height="2.80" fill="#151515"/><rect x="170.00" y="1026.40" width="3.20" height="662.60" fill="#000"/><rect x="2183.70" y="1029.20" width="2.30" height="654.10" fill="#444"/><rect x="2186.00" y="1026.40" width="3.60" height="662.60" fill="#000"/><rect x="2190.00" y="1026.40" width="3.00" height="662.60" fill="#C8C8C8"/><rect x="158.4" y="1654.10" width="11.8" height="3" fill="#444"/><text x="150" y="1673.60" text-anchor="end" font-size="47.5">0</text><rect x="158.4" y="1554.84" width="11.8" height="3" fill="#444"/><text x="150" y="1574.34" text-anchor="end" font-size="47.5">2</text><rect x="158.4" y="1455.58" width="11.8" height="3" fill="#444"/><text x="150" y="1475.08" text-anchor="end" font-size="47.5">4</text><rect x="158.4" y="1356.32" width="11.8" height="3" fill="#444"/><text x="150" y="1375.82" text-anchor="end" font-size="47.5">6</text><rect x="158.4" y="1257.06" width="11.8" height="3" fill="#444"/><text x="150" y="1276.56" text-anchor="end" font-size="47.5">8</text><rect x="158.4" y="1157.80" width="11.8" height="3" fill="#444"/><text x="150" y="1177.30" text-anchor="end" font-size="47.5">10</text><rect x="158.4" y="1058.54" width="11.8" height="3" fill="#444"/><text x="150" y="1078.04" text-anchor="end" font-size="47.5">12</text><rect x="427.00" y="1689" width="3" height="8.7" fill="#404040"/><text x="428.50" y="1742.5" text-anchor="middle" font-size="47.5">1</text><rect x="694.50" y="1689" width="3" height="8.7" fill="#404040"/><text x="696.00" y="1742.5" text-anchor="middle" font-size="47.5">2</text><rect x="891.00" y="1689" width="3" height="8.7" fill="#404040"/><text x="892.50" y="1742.5" text-anchor="middle" font-size="47.5">3</text><rect x="1057.00" y="1689" width="3" height="8.7" fill="#404040"/><text x="1058.50" y="1742.5" text-anchor="middle" font-size="47.5">4</text><rect x="1176.00" y="1689" width="3" height="8.7" fill="#404040"/><text x="1177.50" y="1742.5" text-anchor="middle" font-size="47.5">5</text><rect x="1261.00" y="1689" width="3" height="8.7" fill="#404040"/><text x="1262.50" y="1742.5" text-anchor="middle" font-size="47.5">6</text><rect x="1332.50" y="1689" width="3" height="8.7" fill="#404040"/><text x="1334.00" y="1742.5" text-anchor="middle" font-size="47.5">7</text><rect x="1394.50" y="1689" width="3" height="8.7" fill="#404040"/><text x="1396.00" y="1742.5" text-anchor="middle" font-size="47.5">8</text><rect x="1454.50" y="1689" width="3" height="8.7" fill="#404040"/><text x="1456.00" y="1742.5" text-anchor="middle" font-size="47.5">9</text><rect x="1516.00" y="1689" width="3" height="8.7" fill="#404040"/><rect x="1565.00" y="1689" width="3" height="8.7" fill="#404040"/><text x="1566.50" y="1742.5" text-anchor="middle" font-size="47.5">11</text><rect x="1611.00" y="1689" width="3" height="8.7" fill="#404040"/><rect x="1653.50" y="1689" width="3" height="8.7" fill="#404040"/><text x="1655.00" y="1742.5" text-anchor="middle" font-size="47.5">13</text><rect x="1691.00" y="1689" width="3" height="8.7" fill="#404040"/><rect x="1728.50" y="1689" width="3" height="8.7" fill="#404040"/><rect x="1746.00" y="1689" width="3" height="8.7" fill="#404040"/><rect x="1762.50" y="1689" width="3" height="8.7" fill="#404040"/><text x="1764.00" y="1742.5" text-anchor="middle" font-size="47.5">17</text><rect x="1793.50" y="1689" width="3" height="8.7" fill="#404040"/><rect x="1823.50" y="1689" width="3" height="8.7" fill="#404040"/><rect x="1853.50" y="1689" width="3" height="8.7" fill="#404040"/><rect x="1881.00" y="1689" width="3" height="8.7" fill="#404040"/><text x="1882.50" y="1742.5" text-anchor="middle" font-size="47.5">21</text><rect x="1903.50" y="1689" width="3" height="8.7" fill="#404040"/><rect x="1916.00" y="1689" width="3" height="8.7" fill="#404040"/><rect x="1938.50" y="1689" width="3" height="8.7" fill="#404040"/><rect x="1953.50" y="1689" width="3" height="8.7" fill="#404040"/><rect x="1963.50" y="1689" width="3" height="8.7" fill="#404040"/><rect x="1981.00" y="1689" width="3" height="8.7" fill="#404040"/><rect x="1998.50" y="1689" width="3" height="8.7" fill="#404040"/><text x="2000.00" y="1742.5" text-anchor="middle" font-size="47.5">28</text><rect x="2006.00" y="1689" width="3" height="8.7" fill="#404040"/><rect x="2051.00" y="1689" width="3" height="8.7" fill="#404040"/><rect x="2096.00" y="1689" width="3" height="8.7" fill="#404040"/><text x="225" y="1117.8" font-size="54">B</text><text x="0" y="0" transform="translate(90.6 1359.5) rotate(-90)" text-anchor="middle" font-size="69">-log10(Pvalue</text><text x="1177" y="1809" text-anchor="middle" font-size="67.5">Chromosome</text></svg>
</body></html>
